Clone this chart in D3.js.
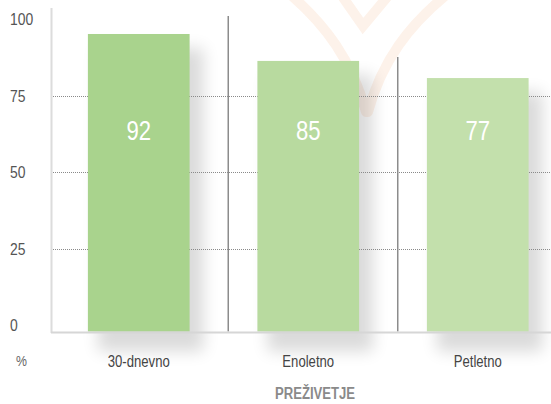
<!DOCTYPE html>
<html><head><meta charset="utf-8">
<script src="https://cdn.jsdelivr.net/npm/d3@7"></script>
<style>
html,body{margin:0;padding:0;background:#fff;}
svg{display:block;}
text{font-family:"Liberation Sans",Arial,sans-serif;}
</style></head>
<body>
<script>
// ---- data ----
const categories = ["30-dnevno", "Enoletno", "Petletno"];
const valueLabels = ["92", "85", "77"];
const barValues = [95.1, 86.3, 80.7];      // bar heights as drawn in the picture
const separatorTops = [101, 87.6];          // heights of the dark separator lines
const yTicks = [0, 25, 50, 75, 100];
const gridTicks = [25, 50, 75];
const barColors = ["#a9d38d", "#b8da9f", "#c3e0ac"];
const unitLabel = "%";
const axisTitle = "PREŽIVETJE";

const W = 551, H = 404;
const NARROW = 0.82;
const svg = d3.select("body").append("svg").attr("width", W).attr("height", H);

const y = d3.scaleLinear().domain([0, 100]).range([325, 19]);
const x = d3.scaleBand().domain(categories).range([54, 562.5]).paddingInner(0.4).paddingOuter(0.2);
const baseY = 331.5;

const defs = svg.append("defs");
const f = defs.append("filter").attr("id", "sh").attr("x", "-50%").attr("y", "-50%").attr("width", "200%").attr("height", "200%");
f.append("feGaussianBlur").attr("stdDeviation", 8);

// watermark
const wm = svg.append("g").attr("fill", "none").attr("stroke", "#fdeee3").attr("stroke-width", 10)
  .attr("stroke-linecap", "round").attr("opacity", 0.75);
wm.append("path").attr("d", "M292,-4 C325,25 352,60 366,112");
wm.append("path").attr("d", "M445,-4 C410,25 382,60 368,112");
wm.append("path").attr("d", "M342,-4 L363,26 L388,-4");

// shadows
svg.append("g").selectAll("rect").data(categories).join("rect")
  .attr("x", d => x(d) + 10)
  .attr("y", (d, i) => y(barValues[i]) + 14)
  .attr("width", x.bandwidth() + 4)
  .attr("height", (d, i) => baseY - y(barValues[i]) + 6)
  .attr("fill", "#000").attr("opacity", 0.14).attr("filter", "url(#sh)");

// gridlines
svg.append("g").selectAll("line").data(gridTicks).join("line")
  .attr("x1", 53).attr("x2", W).attr("y1", d => Math.round(y(d)) + 0.5).attr("y2", d => Math.round(y(d)) + 0.5)
  .attr("stroke", "#8a8a8a").attr("stroke-width", 1).attr("stroke-dasharray", "1,1");

// separators
svg.append("g").selectAll("line").data(separatorTops).join("line")
  .attr("x1", (d, i) => x(categories[i]) + x.bandwidth() + x.step() * 0.228)
  .attr("x2", (d, i) => x(categories[i]) + x.bandwidth() + x.step() * 0.228)
  .attr("y1", d => y(d)).attr("y2", baseY)
  .attr("stroke", "#8c8c8c").attr("stroke-width", 1.5);

// bars
svg.append("g").selectAll("rect").data(categories).join("rect")
  .attr("x", d => x(d)).attr("width", x.bandwidth())
  .attr("y", (d, i) => y(barValues[i])).attr("height", (d, i) => baseY - y(barValues[i]))
  .attr("fill", (d, i) => barColors[i]);

function narrowText(sel, tx, ty) {
  return sel.attr("transform", (d, i) => `translate(${tx(d, i)},${ty(d, i)}) scale(${NARROW},1)`);
}

// value labels
narrowText(svg.append("g").selectAll("text").data(categories).join("text"),
  d => x(d) + x.bandwidth() / 2, () => y(63.5))
  .attr("text-anchor", "middle").attr("dominant-baseline", "central")
  .attr("fill", "#fff").attr("font-size", 27)
  .text((d, i) => valueLabels[i]);

// axis lines
svg.append("line").attr("x1", 51.5).attr("x2", 51.5).attr("y1", 8).attr("y2", 333)
  .attr("stroke", "#dcdcdc").attr("stroke-width", 2);
svg.append("line").attr("x1", 51).attr("x2", W).attr("y1", 332.5).attr("y2", 332.5)
  .attr("stroke", "#d6d6d6").attr("stroke-width", 2);

// y tick labels
narrowText(svg.append("g").selectAll("text").data(yTicks).join("text"), () => 10, d => y(d))
  .attr("dominant-baseline", "central")
  .attr("fill", "#555").attr("font-size", 17).text(d => d);

// category labels
narrowText(svg.append("g").selectAll("text").data(categories).join("text"),
  d => x(d) + x.bandwidth() / 2, () => 362)
  .attr("text-anchor", "middle").attr("dominant-baseline", "central")
  .attr("fill", "#444").attr("font-size", 16).text(d => d);

narrowText(svg.append("text").datum(unitLabel), () => 16, () => 361)
  .attr("dominant-baseline", "central")
  .attr("fill", "#666").attr("font-size", 15).text(unitLabel);

narrowText(svg.append("text").datum(axisTitle), () => 315, () => 394)
  .attr("text-anchor", "middle").attr("dominant-baseline", "central")
  .attr("fill", "#8a8a8a").attr("font-size", 16).attr("font-weight", "bold").text(axisTitle);
</script>
</body></html>
